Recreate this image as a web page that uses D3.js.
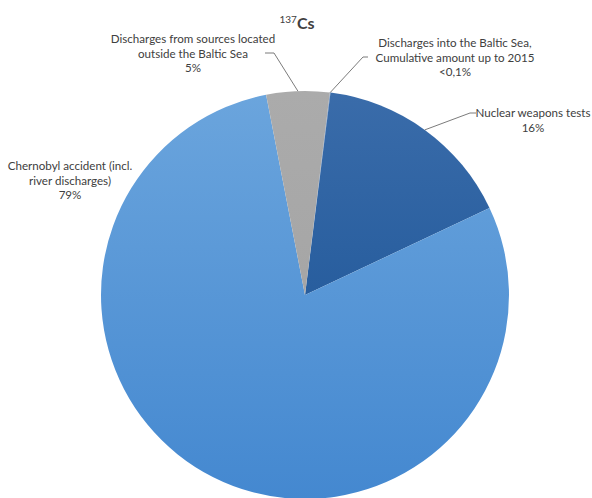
<!DOCTYPE html>
<html>
<head>
<meta charset="utf-8">
<script src="https://cdn.jsdelivr.net/npm/d3@7"></script>
<style>
  body { margin: 0; background: #fff; }
  svg text { font-family: Lato, 'Open Sans', sans-serif; fill: #404040; }
</style>
</head>
<body>
<script>
// sources of 137Cs in the Baltic Sea (percent)
let categories = [
  'Discharges into the Baltic Sea, Cumulative amount up to 2015',
  'Nuclear weapons tests',
  'Chernobyl accident (incl. river discharges)',
  'Discharges from sources located outside the Baltic Sea'
];
let values = [0.05, 16, 79, 5];
let valueLabels = ['<0,1%', '16%', '79%', '5%'];
let labelLines = [
  ['Discharges into the Baltic Sea,', 'Cumulative amount up to 2015'],
  ['Nuclear weapons tests'],
  ['Chernobyl accident (incl.', 'river discharges)'],
  ['Discharges from sources located', 'outside the Baltic Sea']
];

const width = 592, height = 498;
const cx = 305, cy = 295, r = 204;
const rot = 7 * Math.PI / 180;

// gradient colours (top, bottom) per slice
const grads = [
  ['#6f94c8', '#5f88c0'],
  ['#3a6caa', '#154f92'],
  ['#6ba5dd', '#4488d0'],
  ['#ababab', '#a0a0a0']
];

// label placement: text centre x, first baseline y, leader elbow & end (null = no leader)
const labelPos = [
  {x: 455, y: 47, elbow: [363, 57], end: [368, 57]},
  {x: 533, y: 117, elbow: [470, 113], end: [476, 113]},
  {x: 70, y: 170, elbow: null},
  {x: 193, y: 43, elbow: [274, 53], end: [265, 53]}
];

let svg = d3.select('body').append('svg')
  .attr('width', width)
  .attr('height', height);

let defs = svg.append('defs');
grads.forEach((g, i) => {
  let lg = defs.append('linearGradient')
    .attr('id', 'g' + i)
    .attr('gradientUnits', 'userSpaceOnUse')
    .attr('x1', 0).attr('x2', 0)
    .attr('y1', -r).attr('y2', r);
  lg.append('stop').attr('offset', '0%').attr('stop-color', g[0]);
  lg.append('stop').attr('offset', '100%').attr('stop-color', g[1]);
});

let pie = d3.pie()
  .sort(null)
  .startAngle(rot)
  .endAngle(rot + 2 * Math.PI);

let arc = d3.arc().innerRadius(0).outerRadius(r);
let arcs = pie(values);

let g = svg.append('g').attr('transform', `translate(${cx},${cy})`);

g.selectAll('path')
  .data(arcs)
  .enter()
    .append('path')
    .attr('d', arc)
    .attr('fill', (d, i) => 'url(#g' + i + ')');

// title
let title = svg.append('text')
  .attr('x', 297)
  .attr('y', 29)
  .attr('text-anchor', 'middle');
title.append('tspan')
  .attr('font-size', '10px')
  .attr('dy', '-6')
  .text('137');
title.append('tspan')
  .attr('font-size', '16px')
  .attr('font-weight', 'bold')
  .attr('dy', '6')
  .text('Cs');

// leader lines
arcs.forEach((d, i) => {
  let p = labelPos[i];
  if (!p.elbow) return;
  let a = (d.startAngle + d.endAngle) / 2;
  let start = [cx + r * Math.sin(a), cy - r * Math.cos(a)];
  svg.append('polyline')
    .attr('points', [start, p.elbow, p.end].map(q => q.join(',')).join(' '))
    .attr('fill', 'none')
    .attr('stroke', '#595959')
    .attr('stroke-width', 0.8);
});

// labels
labelPos.forEach((p, i) => {
  let t = svg.append('text')
    .attr('text-anchor', 'middle')
    .attr('font-size', '11.6px');
  labelLines[i].concat([valueLabels[i]]).forEach((line, k) => {
    t.append('tspan')
      .attr('x', p.x)
      .attr('y', p.y + k * 14.5)
      .text(line);
  });
});
</script>
</body>
</html>
